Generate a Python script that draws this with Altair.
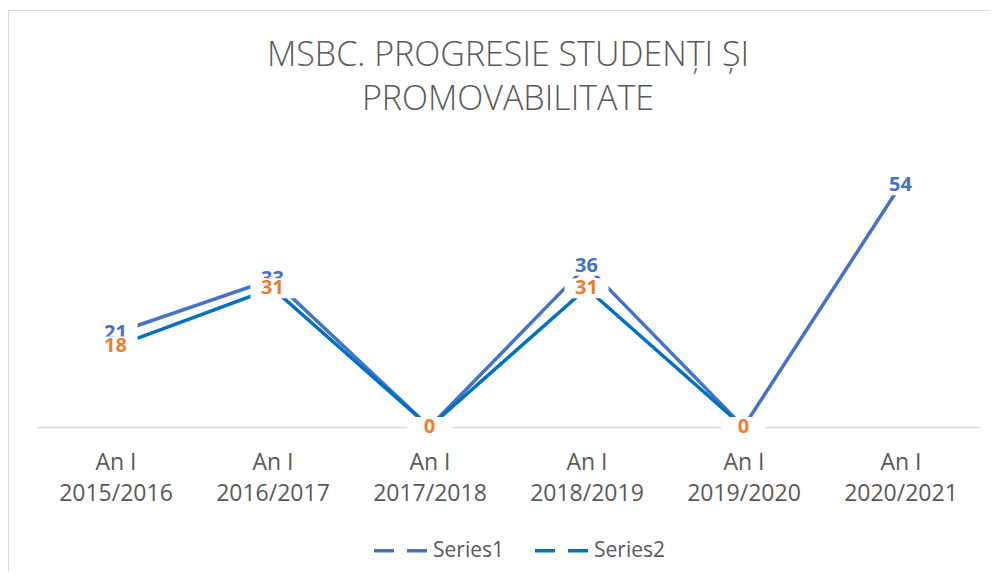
import altair as alt
import pandas as pd

categories = ["An I\n2015/2016", "An I\n2016/2017", "An I\n2017/2018",
              "An I\n2018/2019", "An I\n2019/2020", "An I\n2020/2021"]
series1 = [21, 33, 0, 36, 0, 54]
series2 = [18, 31, 0, 31, 0, None]
series_names = ["Series1", "Series2"]
line_colors = ["#4472C4", "#0070C0"]
label_colors = ["#4472C4", "#ED7D31"]

rows = []
for name, vals in zip(series_names, [series1, series2]):
    for c, v in zip(categories, vals):
        if v is not None:
            rows.append({"cat": c, "value": v, "series": name})
df = pd.DataFrame(rows)
df1 = df[df.series == "Series1"]
df2 = df[df.series == "Series2"]

FONT = "Open Sans"
GRAY = "#595959"

x_enc = alt.X("cat:N", sort=categories,
              scale=alt.Scale(type="point", padding=0.5),
              axis=alt.Axis(title=None, labelAngle=0,
                            labelExpr="split(datum.label, '\\n')",
                            labelFontSize=23, labelFont=FONT, labelColor=GRAY,
                            labelLineHeight=31, labelPadding=24,
                            ticks=False, grid=False,
                            domainColor="#D9D9D9", domainWidth=1.5))
y_enc = alt.Y("value:Q", scale=alt.Scale(domain=[0, 61], nice=False, zero=True),
              axis=None)

border = alt.Chart(pd.DataFrame({"a": [0]})).mark_rect(
    fill="transparent", stroke="#D9D9D9", strokeWidth=1
).encode(x=alt.value(-28.5), x2=alt.value(1100), y=alt.value(-143.5), y2=alt.value(700))

lines = alt.Chart(df).mark_line(strokeWidth=3.5, strokeCap="butt").encode(
    x=x_enc, y=y_enc,
    color=alt.Color("series:N", scale=alt.Scale(domain=series_names, range=line_colors),
                    legend=alt.Legend(title=None, orient="none", legendX=335, legendY=368,
                                      direction="horizontal", symbolType="stroke",
                                      symbolSize=2809, symbolStrokeWidth=3.5,
                                      symbolDash=[20, 13], labelFontSize=21,
                                      labelFont=FONT, labelColor=GRAY,
                                      columnPadding=24, labelOffset=4))
)

box_shape = "M-1,-0.45L1,-0.45L1,0.45L-1,0.45Z"

def box(d):
    return alt.Chart(d).mark_point(shape=box_shape, size=1936, filled=True,
                                   color="white", opacity=1, strokeWidth=0).encode(
        x=x_enc, y=y_enc)

def labels(d, col):
    return alt.Chart(d).mark_text(font=FONT, fontWeight="bold", fontSize=20,
                                  color=col, baseline="middle", align="center").encode(
        x=x_enc, y=y_enc, text=alt.Text("value:Q"))

chart = alt.layer(
    border, lines,
    box(df1), labels(df1, label_colors[0]),
    box(df2), labels(df2, label_colors[1]),
).properties(
    width=942, height=273,
    autosize=alt.AutoSizeParams(type="none"),
    padding={"left": 29, "top": 146, "right": 11, "bottom": 144},
    background="white",
    title=alt.TitleParams(text=["MSBC. PROGRESIE STUDENȚI ȘI", "PROMOVABILITATE"],
                          fontSize=34, font=FONT, fontWeight=300, color=GRAY,
                          lineHeight=44, offset=-107, anchor="middle", frame="group"),
).configure_view(stroke="transparent")

chart.save("out.html", embed_options={"renderer": "svg", "actions": False})
